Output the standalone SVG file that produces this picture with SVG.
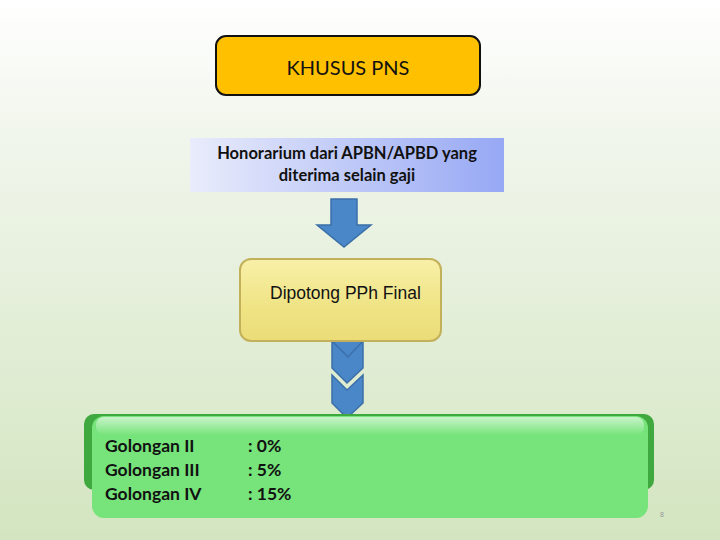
<svg xmlns="http://www.w3.org/2000/svg" width="720" height="540" viewBox="0 0 720 540">
<defs>
<linearGradient id="bg" x1="0" y1="0" x2="0" y2="1">
<stop offset="0" stop-color="#ffffff"/>
<stop offset="0.25" stop-color="#f1f6ec"/>
<stop offset="1" stop-color="#d3e5c0"/>
</linearGradient>
<linearGradient id="hon" x1="0" y1="0" x2="1" y2="0">
<stop offset="0" stop-color="#e9ecfb"/>
<stop offset="1" stop-color="#97a8f4"/>
</linearGradient>
<linearGradient id="yel" x1="0" y1="0" x2="0" y2="1">
<stop offset="0" stop-color="#f8f0a8"/>
<stop offset="0.6" stop-color="#efe384"/>
<stop offset="1" stop-color="#ebdc78"/>
</linearGradient>
<linearGradient id="hl" x1="0" y1="0" x2="0" y2="1">
<stop offset="0" stop-color="#ffffff" stop-opacity="0.6"/>
<stop offset="1" stop-color="#ffffff" stop-opacity="0"/>
</linearGradient>
</defs>
<style>
.arrow{fill:#4a87c9;stroke:#3b6fa8;stroke-width:1.5;stroke-linejoin:miter}
.t{font-family:Lato,"Open Sans",sans-serif;fill:#111}
.b{font-weight:bold}
</style>
<rect width="720" height="540" fill="url(#bg)"/>
<g id="connectors">
<path class="arrow" d="M331,199 H357 V225 H371 L344,247 L317,225 H331 Z"/>
<path class="arrow" d="M332,340 H363 V368 L347,383 L332,368 Z"/>
<path d="M333,342 L348,357 L362,342" fill="none" stroke="#3b6fa8" stroke-width="1.5"/>
<path class="arrow" d="M332,375 L347,390 L363,375 V403 L347,418 L332,403 Z"/>
</g>
<g id="khusus">
<rect x="216" y="36" width="264" height="59" rx="10" fill="#ffc000" stroke="#111" stroke-width="2"/>
<text class="t" x="348" y="75" font-size="20" text-anchor="middle">KHUSUS PNS</text>
</g>
<g id="honorarium">
<rect x="190" y="138" width="314" height="54" fill="url(#hon)"/>
<text class="t b" x="347" y="159" font-size="16.5" text-anchor="middle">Honorarium dari APBN/APBD yang</text>
<text class="t b" x="347" y="181" font-size="16.5" text-anchor="middle">diterima selain gaji</text>
</g>
<g id="dipotong">
<rect x="240" y="259" width="201" height="82" rx="11" fill="url(#yel)" stroke="#c2b05a" stroke-width="2"/>
<text x="270" y="299" font-size="17.5" font-family="Liberation Sans,Arial,sans-serif" fill="#111">Dipotong PPh Final</text>
</g>
<g id="golongan">
<rect x="84" y="414" width="570" height="76" rx="10" fill="#3fa83f"/>
<rect x="92" y="416" width="556" height="102" rx="12" fill="#77e47b"/>
<rect x="96" y="417" width="548" height="18" rx="8" fill="url(#hl)"/>
<g class="t b" font-size="17.5">
<text x="105" y="452">Golongan II</text>
<text x="105" y="476">Golongan III</text>
<text x="105" y="500">Golongan IV</text>
<text x="248" y="452">: 0%</text>
<text x="248" y="476">: 5%</text>
<text x="248" y="500">: 15%</text>
</g>
</g>
<text x="660" y="517" font-size="7" font-family="Liberation Sans,sans-serif" fill="#999">8</text>
</svg>
